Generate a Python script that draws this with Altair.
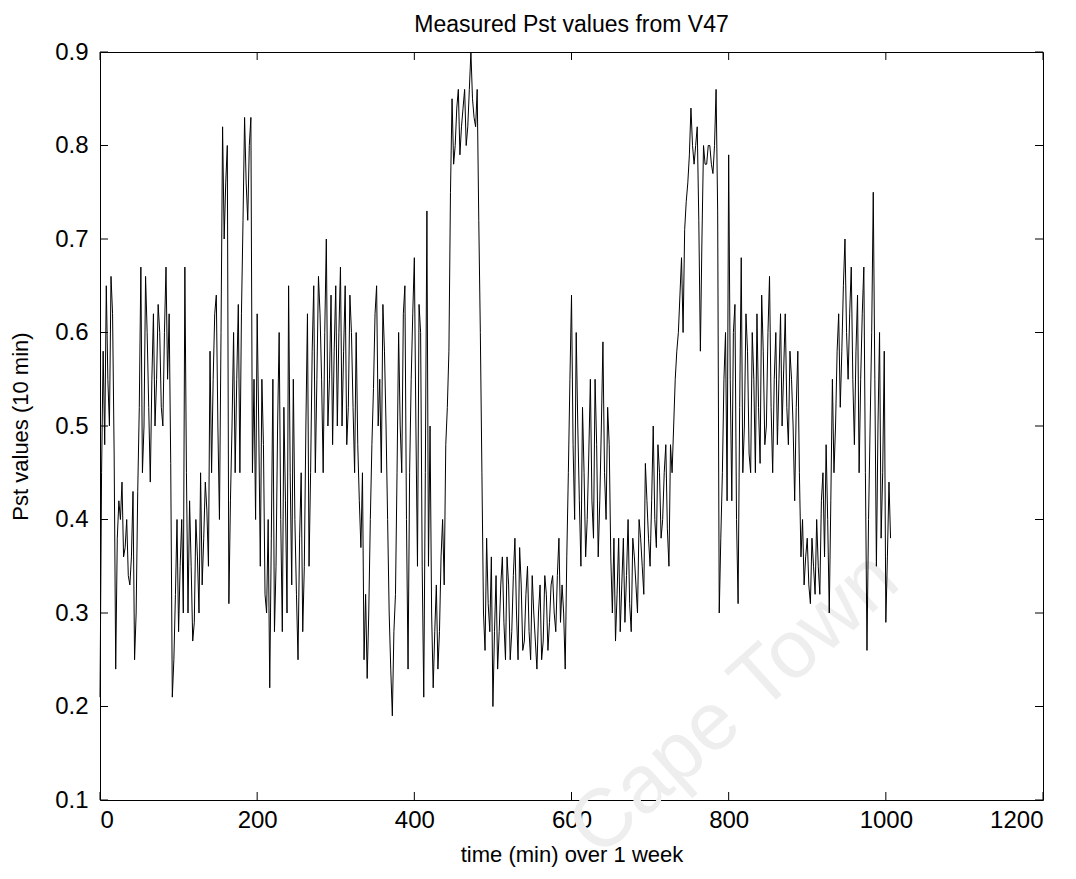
import altair as alt
import pandas as pd

# Pst values, at t = 0, 4, 8, ... (minutes index)
t_a = list(range(0, 1008, 4))
pst_a = [
    0.21, 0.58, 0.65, 0.50, 0.62, 0.24, 0.42, 0.44, 0.37, 0.34,
    0.36, 0.25, 0.43, 0.67, 0.50, 0.60, 0.44, 0.62, 0.55, 0.60,
    0.50, 0.67, 0.62, 0.21, 0.32, 0.28, 0.40, 0.67, 0.30, 0.35,
    0.29, 0.36, 0.45, 0.38, 0.41, 0.58, 0.55, 0.64, 0.40, 0.82,
    0.76, 0.31, 0.50, 0.45, 0.63, 0.62, 0.83, 0.72, 0.83, 0.55,
    0.62, 0.35, 0.48, 0.30, 0.22, 0.55, 0.35, 0.60, 0.28, 0.42,
    0.65, 0.33, 0.40, 0.25, 0.45, 0.35, 0.62, 0.45, 0.65, 0.55,
    0.62, 0.45, 0.70, 0.55, 0.48, 0.65, 0.60, 0.50, 0.65, 0.52,
    0.60, 0.45, 0.48, 0.37, 0.25, 0.23, 0.40, 0.54, 0.65, 0.55,
    0.63, 0.50, 0.30, 0.19, 0.32, 0.60, 0.45, 0.65, 0.24, 0.55,
    0.68, 0.35, 0.60, 0.21, 0.73, 0.50, 0.22, 0.33, 0.28, 0.40,
    0.48, 0.58, 0.85, 0.80, 0.86, 0.82, 0.86, 0.82, 0.90, 0.83,
    0.86, 0.60, 0.30, 0.38, 0.28, 0.20, 0.34, 0.28, 0.36, 0.25,
    0.33, 0.28, 0.38, 0.25, 0.33, 0.27, 0.35, 0.25, 0.30, 0.24,
    0.33, 0.27, 0.32, 0.29, 0.34, 0.28, 0.38, 0.33, 0.24, 0.45,
    0.64, 0.40, 0.50, 0.35, 0.45, 0.40, 0.55, 0.38, 0.48, 0.42,
    0.59, 0.40, 0.48, 0.30, 0.27, 0.38, 0.33, 0.29, 0.40, 0.28,
    0.36, 0.30, 0.38, 0.32, 0.42, 0.35, 0.50, 0.37, 0.45, 0.40,
    0.48, 0.35, 0.45, 0.55, 0.60, 0.68, 0.71, 0.76, 0.84, 0.78,
    0.82, 0.58, 0.80, 0.78, 0.80, 0.77, 0.86, 0.30, 0.45, 0.60,
    0.79, 0.42, 0.63, 0.31, 0.68, 0.50, 0.58, 0.45, 0.55, 0.62,
    0.46, 0.58, 0.50, 0.66, 0.45, 0.60, 0.55, 0.50, 0.62, 0.48,
    0.55, 0.42, 0.58, 0.36, 0.33, 0.38, 0.31, 0.35, 0.40, 0.32,
    0.45, 0.48, 0.30, 0.55, 0.50, 0.62, 0.58, 0.70, 0.55, 0.67,
    0.48, 0.64, 0.55, 0.67, 0.26, 0.50, 0.75, 0.35, 0.60, 0.45,
    0.29, 0.44,
]
# Pst values in between, at t = 2, 6, 10, ...
t_b = list(range(2, 1008, 4))
pst_b = [
    0.45, 0.48, 0.55, 0.66, 0.47, 0.38, 0.40, 0.36, 0.40, 0.33,
    0.43, 0.30, 0.52, 0.45, 0.66, 0.52, 0.55, 0.50, 0.63, 0.52,
    0.60, 0.55, 0.46, 0.25, 0.40, 0.35, 0.30, 0.45, 0.42, 0.27,
    0.40, 0.30, 0.33, 0.44, 0.35, 0.45, 0.62, 0.50, 0.60, 0.70,
    0.80, 0.42, 0.60, 0.55, 0.45, 0.72, 0.76, 0.80, 0.45, 0.40,
    0.50, 0.55, 0.32, 0.40, 0.38, 0.28, 0.50, 0.40, 0.52, 0.30,
    0.45, 0.55, 0.32, 0.38, 0.28, 0.50, 0.35, 0.58, 0.45, 0.66,
    0.55, 0.60, 0.50, 0.64, 0.58, 0.50, 0.67, 0.58, 0.48, 0.64,
    0.52, 0.60, 0.42, 0.45, 0.32, 0.30, 0.48, 0.62, 0.50, 0.45,
    0.58, 0.40, 0.24, 0.28, 0.45, 0.50, 0.62, 0.40, 0.45, 0.62,
    0.50, 0.63, 0.35, 0.45, 0.35, 0.30, 0.28, 0.24, 0.36, 0.33,
    0.52, 0.75, 0.78, 0.84, 0.79, 0.84, 0.80, 0.86, 0.85, 0.82,
    0.72, 0.45, 0.26, 0.31, 0.36, 0.28, 0.24, 0.33, 0.29, 0.36,
    0.25, 0.34, 0.30, 0.37, 0.26, 0.32, 0.28, 0.34, 0.27, 0.30,
    0.25, 0.34, 0.26, 0.33, 0.30, 0.34, 0.29, 0.30, 0.36, 0.55,
    0.48, 0.60, 0.42, 0.52, 0.36, 0.47, 0.42, 0.55, 0.36, 0.50,
    0.45, 0.52, 0.36, 0.38, 0.32, 0.28, 0.38, 0.34, 0.31, 0.38,
    0.33, 0.40, 0.35, 0.46, 0.38, 0.42, 0.40, 0.48, 0.38, 0.45,
    0.39, 0.48, 0.50, 0.58, 0.64, 0.60, 0.74, 0.79, 0.80, 0.80,
    0.72, 0.70, 0.78, 0.80, 0.78, 0.80, 0.73, 0.38, 0.55, 0.42,
    0.55, 0.60, 0.40, 0.52, 0.45, 0.62, 0.47, 0.60, 0.45, 0.52,
    0.64, 0.48, 0.60, 0.52, 0.55, 0.48, 0.62, 0.56, 0.52, 0.58,
    0.50, 0.52, 0.45, 0.40, 0.36, 0.33, 0.38, 0.32, 0.35, 0.42,
    0.36, 0.40, 0.42, 0.45, 0.58, 0.52, 0.65, 0.60, 0.62, 0.55,
    0.58, 0.45, 0.62, 0.45, 0.40, 0.60, 0.55, 0.50, 0.38, 0.58,
    0.36, 0.38,
]
x_ticks = [0, 200, 400, 600, 800, 1000, 1200]
y_ticks = [0.1, 0.2, 0.3, 0.4, 0.5, 0.6, 0.7, 0.8, 0.9]

W, H = 943, 748
FONT = "Liberation Sans, Arial, sans-serif"

rows = [(t, v) for t, v in zip(t_a, pst_a)] + [(t, v) for t, v in zip(t_b, pst_b)]
df = pd.DataFrame(rows, columns=["t", "pst"]).sort_values("t")
xt = pd.DataFrame({"x": x_ticks})
yt = pd.DataFrame({"y": y_ticks})

xscale = alt.Scale(domain=[0, 1200], nice=False, zero=False)
yscale = alt.Scale(domain=[0.1, 0.9], nice=False, zero=False)

line = alt.Chart(df).mark_line(color="black", strokeWidth=1).encode(
    x=alt.X("t:Q", scale=xscale,
            axis=alt.Axis(values=x_ticks, title="time (min) over 1 week", ticks=False,
                          grid=False, domain=False, labelPadding=8, titlePadding=12,
                          format="d")),
    y=alt.Y("pst:Q", scale=yscale,
            axis=alt.Axis(values=y_ticks, title="Pst values (10 min)", ticks=False,
                          grid=False, domain=False, labelPadding=12, titlePadding=22,
                          format=".1f")),
)

tick_len = 8
xb = alt.Chart(xt).mark_rule(color="black", strokeWidth=1).encode(
    x=alt.X("x:Q", scale=xscale), y=alt.value(H), y2=alt.value(H - tick_len))
xtop = alt.Chart(xt).mark_rule(color="black", strokeWidth=1).encode(
    x=alt.X("x:Q", scale=xscale), y=alt.value(0), y2=alt.value(tick_len))
yl = alt.Chart(yt).mark_rule(color="black", strokeWidth=1).encode(
    y=alt.Y("y:Q", scale=yscale), x=alt.value(0), x2=alt.value(tick_len))
yr = alt.Chart(yt).mark_rule(color="black", strokeWidth=1).encode(
    y=alt.Y("y:Q", scale=yscale), x=alt.value(W), x2=alt.value(W - tick_len))

watermark = alt.Chart(pd.DataFrame({"txt": ["Cape Town"]})).mark_text(
    font="Liberation Sans, sans-serif", fontSize=82, color="#eeeeee", angle=318,
    align="center", baseline="middle",
).encode(text="txt:N", x=alt.value(634), y=alt.value(652))

chart = alt.layer(watermark, line, xb, xtop, yl, yr).properties(
    width=W, height=H,
    background="white",
    title=alt.TitleParams("Measured Pst values from V47", font=FONT, fontSize=23,
                          fontWeight="normal", color="black", offset=3),
    autosize=alt.AutoSizeParams(type="none"),
    padding={"left": 92, "top": 44, "right": 25, "bottom": 71},
).configure_view(stroke="black", strokeWidth=1).configure_axis(
    labelFont=FONT, labelFontSize=24, labelColor="black",
    titleFont=FONT, titleFontSize=22, titleFontWeight="normal", titleColor="black",
)

chart.save("out.html", embed_options={"renderer": "svg", "actions": False})
